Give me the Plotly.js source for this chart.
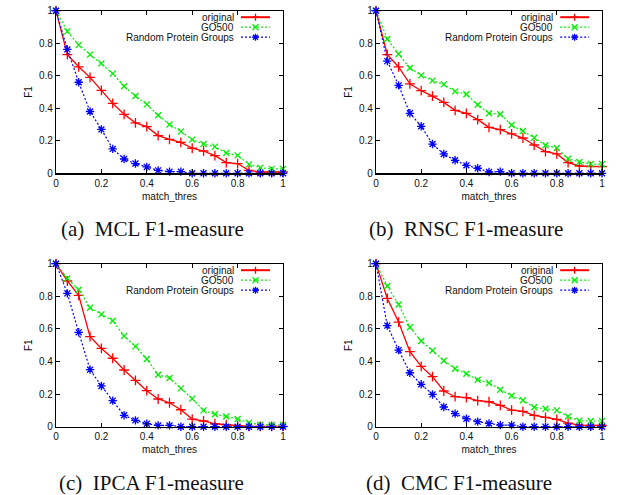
<!DOCTYPE html>
<html>
<head>
<meta charset="utf-8">
<script src="https://cdn.plot.ly/plotly-3.0.1.min.js"></script>
<style>html,body{margin:0;padding:0;background:#fff;}#chart{width:622px;height:495px;}</style>
</head>
<body>
<div id="chart"></div>
<script>
// ---- data ----
const thres = [0,0.05,0.1,0.15,0.2,0.25,0.3,0.35,0.4,0.45,0.5,0.55,0.6,0.65,0.7,0.75,0.8,0.85,0.9,0.95,1];
const seriesNames = ["original", "GO500", "Random Protein Groups"];
const captions = ["(a)\u00a0 MCL F1-measure", "(b)\u00a0 RNSC F1-measure", "(c)\u00a0 IPCA F1-measure", "(d)\u00a0 CMC F1-measure"];

const mclOriginal = [1,0.73,0.655,0.59,0.51,0.43,0.363,0.31,0.287,0.232,0.209,0.19,0.154,0.137,0.109,0.066,0.06,0.018,0.008,0.008,0.008];
const mclGO500    = [1,0.873,0.79,0.73,0.676,0.613,0.535,0.475,0.424,0.357,0.3,0.258,0.207,0.18,0.164,0.125,0.11,0.055,0.035,0.027,0.027];
const mclRandom   = [1,0.762,0.56,0.38,0.27,0.15,0.088,0.06,0.039,0.018,0.01,0.01,0,0,0,0,0,0,0,0,0];

const rnscOriginal = [1,0.73,0.654,0.55,0.508,0.475,0.436,0.387,0.369,0.33,0.283,0.268,0.242,0.217,0.174,0.133,0.119,0.066,0.045,0.041,0.041];
const rnscGO500    = [1,0.826,0.734,0.648,0.602,0.57,0.547,0.504,0.486,0.422,0.369,0.363,0.297,0.26,0.219,0.172,0.156,0.09,0.07,0.057,0.057];
const rnscRandom   = [1,0.69,0.541,0.369,0.289,0.18,0.119,0.08,0.049,0.031,0.008,0.01,0,0,0,0,0,0,0,0,0];

const ipcaOriginal = [1,0.894,0.806,0.552,0.48,0.42,0.348,0.284,0.221,0.17,0.147,0.104,0.047,0.035,0.018,0.012,0.006,0.002,0.002,0.002,0.002];
const ipcaGO500    = [1,0.91,0.84,0.73,0.689,0.65,0.556,0.493,0.415,0.319,0.299,0.235,0.172,0.1,0.076,0.063,0.047,0.025,0.012,0.01,0.01];
const ipcaRandom   = [1,0.818,0.579,0.35,0.25,0.16,0.07,0.039,0.018,0.008,0.008,0,0,0,0,0,0,0,0,0,0];

const cmcOriginal = [1,0.787,0.642,0.46,0.37,0.307,0.219,0.184,0.178,0.16,0.153,0.131,0.102,0.094,0.07,0.057,0.045,0.022,0.01,0.008,0.008];
const cmcGO500    = [1,0.863,0.75,0.61,0.526,0.468,0.405,0.356,0.325,0.288,0.268,0.227,0.19,0.162,0.119,0.11,0.1,0.063,0.037,0.035,0.035];
const cmcRandom   = [1,0.62,0.47,0.331,0.26,0.198,0.121,0.08,0.049,0.031,0.02,0.01,0.01,0,0,0,0,0,0,0,0];

const panels = [
  [mclOriginal, mclGO500, mclRandom],
  [rnscOriginal, rnscGO500, rnscRandom],
  [ipcaOriginal, ipcaGO500, ipcaRandom],
  [cmcOriginal, cmcGO500, cmcRandom]
];

// ---- styles ----
const styles = [
  {color:"#ff0000", dash:"solid",   width:1.3, symbol:"cross-thin-open", size:7},
  {color:"#00ee00", dash:"2px,2px", width:1.2, symbol:"x-thin-open",     size:6},
  {color:"#0000ff", dash:"2px,2px", width:1.2, symbol:"asterisk-open",   size:7}
];
const legendGlyphs = [
  "M-3.5,0H3.5M0,-3.5V3.5",
  "M-3,-3L3,3M-3,3L3,-3",
  "M-3.5,0H3.5M0,-3.5V3.5M-2.5,-2.5L2.5,2.5M-2.5,2.5L2.5,-2.5"
];
const W = 622, H = 495;
const xDomains = [[56/W, 283/W],[376/W, 602/W],[56/W, 283/W],[376/W, 602/W]];
const yDomains = [[(H-173.3)/H,(H-10.7)/H],[(H-173.3)/H,(H-10.7)/H],[(H-426.7)/H,(H-263.7)/H],[(H-426.7)/H,(H-263.7)/H]];
const captionPos = [[152,229],[466,229],[151,483],[459,483]];

const traces = [];
const layout = {
  width: W, height: H,
  margin: {l:0, r:0, t:0, b:0},
  paper_bgcolor: "#fff", plot_bgcolor: "#fff",
  showlegend: false,
  font: {family: "Liberation Sans, Arial, sans-serif", size: 10, color: "#000"},
  annotations: [], shapes: []
};

const tickFont = {family:"Liberation Sans, Arial, sans-serif", size:10, color:"#111"};
panels.forEach((p, i) => {
  const n = i === 0 ? "" : String(i+1);
  p.forEach((vals, s) => {
    const st = styles[s];
    traces.push({
      type: "scatter", mode: "lines+markers",
      x: thres, y: vals, name: seriesNames[s],
      xaxis: "x"+n, yaxis: "y"+n,
      line: {color: st.color, dash: st.dash, width: st.width},
      marker: {symbol: st.symbol, size: st.size, color: st.color, line: {color: st.color, width: 1.3}},
      cliponaxis: false
    });
  });
  const axCommon = {
    range: [0,1], dtick: 0.2, tick0: 0,
    showgrid: false, zeroline: false,
    showline: true, linecolor: "#000", linewidth: 1.2, mirror: "allticks",
    ticks: "inside", ticklen: 4, tickcolor: "#000", tickwidth: 1,
    tickfont: tickFont, fixedrange: true
  };
  layout["xaxis"+n] = Object.assign({}, axCommon, {
    domain: xDomains[i], anchor: "y"+n,
    title: {text: "match_thres", font: {family:"Liberation Sans, Arial, sans-serif", size:10, color:"#111"}, standoff: 5}
  });
  layout["yaxis"+n] = Object.assign({}, axCommon, {
    domain: yDomains[i], anchor: "x"+n,
    title: {text: "F1", font: {family:"Liberation Sans, Arial, sans-serif", size:10, color:"#111"}, standoff: 4}
  });

  // caption
  layout.annotations.push({
    xref:"paper", yref:"paper", x: captionPos[i][0]/W, y: (H-captionPos[i][1])/H,
    xanchor:"center", yanchor:"middle", showarrow:false,
    text: captions[i], font: {family:"Liberation Serif, Times New Roman, serif", size:21, color:"#111"}
  });

  // legend (gnuplot style: text right, sample on right)
  const xd = xDomains[i], yd = yDomains[i];
  const ph = (yd[1]-yd[0])*H;
  const textRight = xd[0] + (180/227)*(xd[1]-xd[0]);
  const sampleL = xd[0] + (185/227)*(xd[1]-xd[0]);
  const sampleR = xd[0] + (214/227)*(xd[1]-xd[0]);
  seriesNames.forEach((nm, s) => {
    const yy = yd[1] - ((6.5 + 10*s)/ph)*(yd[1]-yd[0]);
    layout.annotations.push({
      xref:"paper", yref:"paper", x: textRight, y: yy, xanchor:"right", yanchor:"middle",
      showarrow:false, text: nm, font: {family:"Liberation Sans, Arial, sans-serif", size:10, color:"#111"}
    });
    layout.shapes.push({
      type:"line", xref:"paper", yref:"paper", x0: sampleL, x1: sampleR, y0: yy, y1: yy,
      line: {color: styles[s].color, width: s === 0 ? 2 : 1.2, dash: styles[s].dash}
    });
    layout.shapes.push({
      type:"path", xref:"paper", yref:"paper",
      xsizemode:"pixel", ysizemode:"pixel", xanchor:(sampleL+sampleR)/2, yanchor: yy,
      path: legendGlyphs[s], line: {color: styles[s].color, width: 1.3}
    });
  });
});

Plotly.newPlot("chart", traces, layout, {displayModeBar:false, staticPlot:true});
</script>
</body>
</html>
